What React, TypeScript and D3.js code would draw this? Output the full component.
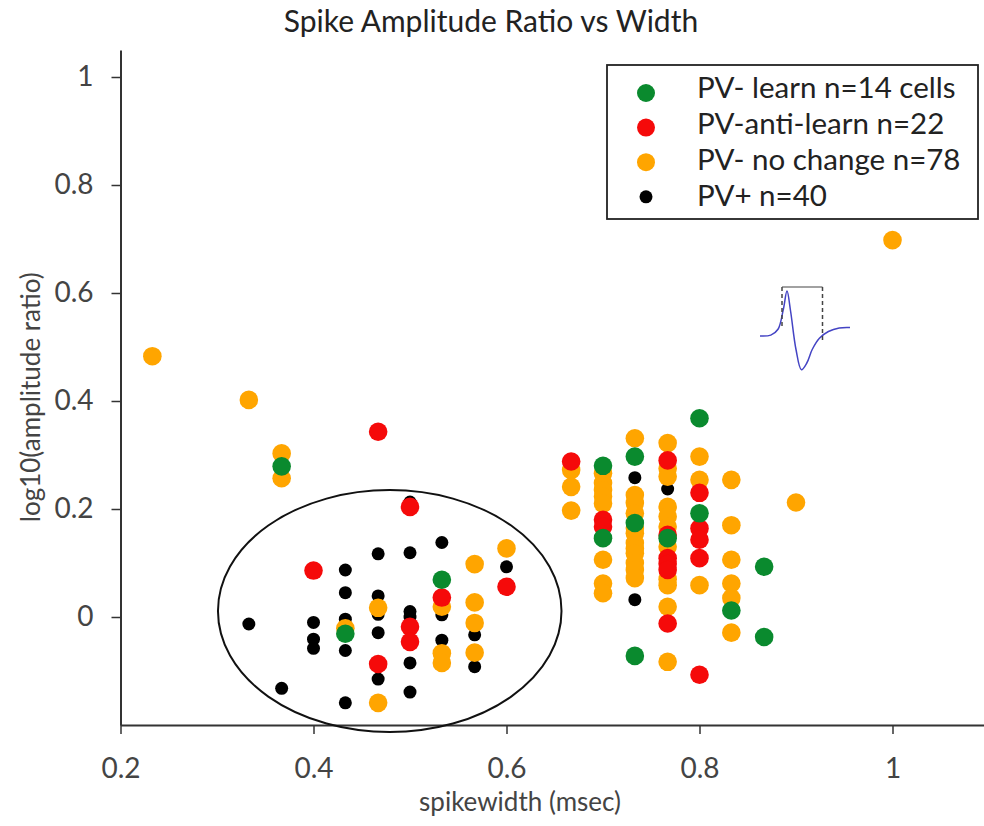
import React, { useEffect, useRef } from 'react';
import * as d3 from 'd3';

// spike width (msec), log10(amplitude ratio)
const pvPlus: [number, number][] = [
  [0.333, -0.013], [0.367, -0.132], [0.4, -0.01], [0.4, -0.041], [0.4, -0.058],
  [0.433, 0.087], [0.433, 0.045], [0.433, -0.004], [0.433, -0.062], [0.433, -0.159],
  [0.467, 0.117], [0.467, 0.039], [0.467, 0.005], [0.467, -0.029], [0.467, -0.115],
  [0.5, 0.213], [0.5, 0.119], [0.5, 0.01], [0.5, 0.0], [0.5, -0.085], [0.5, -0.139],
  [0.533, 0.138], [0.533, 0.004], [0.533, -0.043], [0.567, -0.033], [0.567, -0.092],
  [0.6, 0.093], [0.6, 0.052], [0.733, 0.258], [0.733, 0.032], [0.767, 0.237],
];

const noChange: [number, number][] = [
  [0.233, 0.483], [0.333, 0.402], [0.367, 0.303], [0.367, 0.257], [0.433, -0.021],
  [0.467, 0.017], [0.467, -0.159], [0.533, 0.019], [0.533, -0.067], [0.533, -0.085],
  [0.567, 0.098], [0.567, 0.027], [0.567, -0.011], [0.567, -0.066], [0.6, 0.127],
  [0.667, 0.272], [0.667, 0.241], [0.667, 0.197],
  [0.7, 0.266], [0.7, 0.248], [0.7, 0.235], [0.7, 0.223], [0.7, 0.21], [0.7, 0.106], [0.7, 0.062], [0.7, 0.044],
  [0.733, 0.331], [0.733, 0.226], [0.733, 0.211], [0.733, 0.192], [0.733, 0.165], [0.733, 0.155],
  [0.733, 0.137], [0.733, 0.127], [0.733, 0.118], [0.733, 0.1], [0.733, 0.087], [0.733, 0.072],
  [0.767, 0.322], [0.767, 0.275], [0.767, 0.26], [0.767, 0.204], [0.767, 0.186], [0.767, 0.167],
  [0.767, 0.13], [0.767, 0.07], [0.767, 0.059], [0.767, 0.019], [0.767, -0.083],
  [0.8, 0.297], [0.8, 0.254], [0.8, 0.059],
  [0.833, 0.254], [0.833, 0.17], [0.833, 0.106], [0.833, 0.062], [0.833, 0.035], [0.833, -0.029],
  [0.9, 0.212], [1.0, 0.698],
];

const antiLearn: [number, number][] = [
  [0.4, 0.086], [0.467, 0.343], [0.467, -0.087], [0.5, 0.204], [0.5, -0.018], [0.5, -0.046],
  [0.533, 0.036], [0.6, 0.056], [0.667, 0.288], [0.7, 0.18], [0.7, 0.167],
  [0.767, 0.29], [0.767, 0.152], [0.767, 0.109], [0.767, 0.098], [0.767, 0.087], [0.767, -0.012],
  [0.8, 0.23], [0.8, 0.164], [0.8, 0.143], [0.8, 0.109], [0.8, -0.107],
];

const learn: [number, number][] = [
  [0.367, 0.279], [0.433, -0.031], [0.533, 0.069], [0.7, 0.28], [0.7, 0.146],
  [0.733, 0.297], [0.733, 0.174], [0.733, -0.072], [0.767, 0.146], [0.8, 0.368],
  [0.8, 0.192], [0.833, 0.012], [0.867, 0.093], [0.867, -0.037],
];

const legendLabels = ['PV- learn n=14 cells', 'PV-anti-learn n=22', 'PV- no change n=78', 'PV+ n=40'];
const legendColors = ['#0a8a2e', '#f50a0a', '#ffa500', '#000000'];
const xTicks = [0.2, 0.4, 0.6, 0.8, 1];
const yTicks = [0, 0.2, 0.4, 0.6, 0.8, 1];

// example waveform for the inset (time, voltage)
const waveT = [0, 0.12, 0.2, 0.26, 0.3, 0.34, 0.4, 0.46, 0.52, 0.58, 0.66, 0.76, 0.88, 1];
const waveV = [0, 0.02, 0.15, 0.6, 1.0, 0.55, -0.3, -0.75, -0.6, -0.3, -0.05, 0.1, 0.18, 0.19];

// highlighted cluster (center x, center y, radius x, radius y) in data units
const cluster = [0.479, 0.011, 0.178, 0.224];

const font = 'Lato, "Open Sans", sans-serif';
const textColor = '#444';

export default function App() {
  const ref = useRef<SVGSVGElement | null>(null);

  useEffect(() => {
    const svg = d3.select(ref.current);
    svg.selectAll('*').remove();

    const x = d3.scaleLinear().domain([0.2, 1.1]).range([120.5, 989]);
    const y = d3.scaleLinear().domain([-0.2, 1.05]).range([725, 50]);

    svg.append('text')
      .attr('x', 491).attr('y', 32)
      .attr('text-anchor', 'middle')
      .style('font-family', font).style('font-size', '30px').style('fill', '#222')
      .text('Spike Amplitude Ratio vs Width');

    const gx = svg.append('g').attr('transform', `translate(0,${y(-0.2)})`)
      .call(d3.axisBottom(x).tickValues(xTicks).tickSizeInner(9).tickSizeOuter(0).tickPadding(24).tickFormat(d3.format('~g')));
    const gy = svg.append('g').attr('transform', `translate(${x(0.2)},0)`)
      .call(d3.axisLeft(y).tickValues(yTicks).tickSizeInner(9).tickSizeOuter(0).tickPadding(18).tickFormat(d3.format('~g')));
    [gx, gy].forEach((g) => {
      g.select('.domain').attr('stroke', '#333').attr('stroke-width', 2);
      g.selectAll('.tick line').attr('stroke', '#333').attr('stroke-width', 1.5);
      g.selectAll('.tick text').style('font-family', font).style('font-size', '28px').attr('fill', textColor);
    });

    svg.append('text')
      .attr('x', 520).attr('y', 811)
      .attr('text-anchor', 'middle')
      .style('font-family', font).style('font-size', '26px').style('fill', textColor)
      .text('spikewidth (msec)');
    svg.append('text')
      .attr('transform', `translate(40,${y(0.407)}) rotate(-90)`)
      .attr('text-anchor', 'middle')
      .style('font-family', font).style('font-size', '26px').style('fill', textColor)
      .text('log10(amplitude ratio)');

    // points, drawn black first so colored markers sit on top
    const layers: [[number, number][], string, number][] = [
      [pvPlus, legendColors[3], 6.5],
      [noChange, legendColors[2], 9.3],
      [antiLearn, legendColors[1], 9.3],
      [learn, legendColors[0], 9.3],
    ];
    layers.forEach(([data, color, r]) => {
      svg.append('g').selectAll('circle').data(data).enter().append('circle')
        .attr('cx', (d) => x(d[0])).attr('cy', (d) => y(d[1]))
        .attr('r', r).attr('fill', color);
    });

    svg.append('ellipse')
      .attr('cx', x(cluster[0])).attr('cy', y(cluster[1]))
      .attr('rx', x(cluster[0] + cluster[2]) - x(cluster[0]))
      .attr('ry', y(cluster[1]) - y(cluster[1] + cluster[3]))
      .attr('fill', 'none').attr('stroke', '#111').attr('stroke-width', 2);

    // legend
    const lg = svg.append('g');
    lg.append('rect').attr('x', 607).attr('y', 65).attr('width', 371).attr('height', 154)
      .attr('fill', '#fff').attr('stroke', '#222').attr('stroke-width', 1.8);
    legendLabels.forEach((label, i) => {
      lg.append('circle').attr('cx', 646).attr('cy', 93 + i * 34.6).attr('r', i === 3 ? 6.5 : 9).attr('fill', legendColors[i]);
      lg.append('text').attr('x', 697).attr('y', 98 + i * 36)
        .style('font-family', font).style('font-size', '29.5px').style('fill', '#222')
        .text(label);
    });

    // inset spike waveform
    const wx = d3.scaleLinear().domain([0, 1]).range([760, 850]);
    const wy = d3.scaleLinear().domain([0, 1]).range([336, 291]);
    const wave = d3.line<number>().x((_, i) => wx(waveT[i])).y((d) => wy(d)).curve(d3.curveCatmullRom);
    svg.append('path').attr('d', wave(waveV) as string)
      .attr('fill', 'none').attr('stroke', '#4444c4').attr('stroke-width', 1.5);
    const ins = svg.append('g').attr('stroke', '#444').attr('stroke-width', 1.5).attr('fill', 'none');
    ins.append('line').attr('x1', 782).attr('x2', 822.5).attr('y1', 287).attr('y2', 287).attr('stroke-width', 1.2);
    ins.append('line').attr('x1', 782).attr('x2', 782).attr('y1', 287).attr('y2', 326).attr('stroke-dasharray', '4,3');
    ins.append('line').attr('x1', 822.5).attr('x2', 822.5).attr('y1', 287).attr('y2', 342).attr('stroke-dasharray', '4,3');
  }, []);

  return (
    <svg ref={ref} width={984} height={826}
      style={{ position: 'absolute', left: 0, top: 0, background: '#fff' }} />
  );
}
